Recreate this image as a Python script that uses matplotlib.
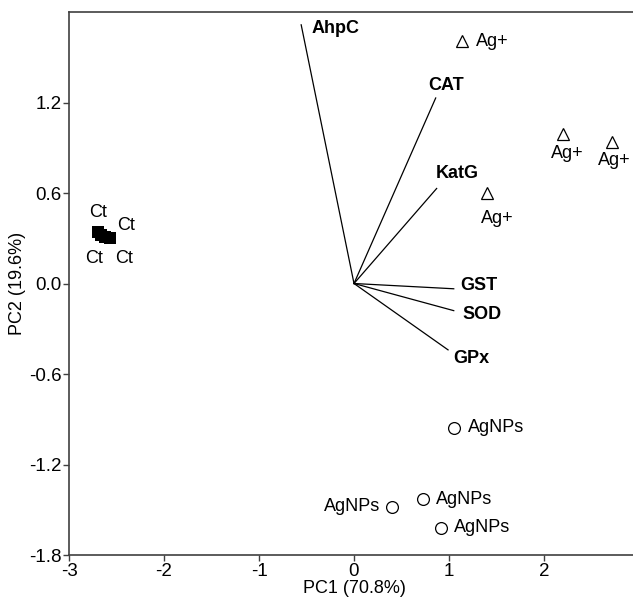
import matplotlib.pyplot as plt

plt.rcParams['font.family'] = ['Liberation Sans', 'DejaVu Sans']
plt.rcParams['axes.unicode_minus'] = False

# scores (PC1, PC2)
ct_x = [-2.70, -2.66, -2.62, -2.57]
ct_y = [0.34, 0.32, 0.31, 0.30]
ag_x = [1.14, 2.20, 2.72, 1.40]
ag_y = [1.61, 0.99, 0.94, 0.60]
np_x = [1.05, 0.73, 0.40, 0.92]
np_y = [-0.955, -1.43, -1.48, -1.62]

# loadings
var_names = ['AhpC', 'CAT', 'KatG', 'GST', 'SOD', 'GPx']
var_x = [-0.556, 0.86, 0.87, 1.05, 1.05, 0.99]
var_y = [1.715, 1.23, 0.63, -0.035, -0.18, -0.44]

# label placement (offset pixels, alignment)
ct_off = [(1, 20, 'center'), (-7, -23, 'center'), (19, -22, 'center'), (16, 13, 'center')]
ag_off = [(14, -1, 'left'), (4, -19, 'center'), (2, -19, 'center'), (10, -25, 'center')]
np_off = [(14, 0, 'left'), (13, 0, 'left'), (-12, 0, 'right'), (13, 0, 'left')]
var_off = [(10, -4, 'left'), (10, 12, 'center'), (-1, 15, 'left'),
           (7, 3, 'left'), (9, -4, 'left'), (5, -9, 'left')]

fig = plt.figure(figsize=(6.33, 5.98), dpi=100)
ax = fig.add_axes([69 / 633, 43 / 598, 570 / 633, 543 / 598])

for name, x, y, (dx, dy, ha) in zip(var_names, var_x, var_y, var_off):
    ax.plot([0, x], [0, y], color='black', lw=0.9)
    ax.annotate(name, (x, y), xytext=(dx, dy), textcoords='offset pixels',
                ha=ha, va='center', fontsize=13, fontweight='bold')

ax.plot(ct_x, ct_y, 's', color='black', ms=8.5, mew=0)
ax.plot(ag_x, ag_y, '^', mfc='white', mec='black', ms=8.5, mew=0.9)
ax.plot(np_x, np_y, 'o', mfc='white', mec='black', ms=8.5, mew=0.9)

for xs, ys, offs, lab in [(ct_x, ct_y, ct_off, 'Ct'), (ag_x, ag_y, ag_off, 'Ag+'),
                          (np_x, np_y, np_off, 'AgNPs')]:
    for x, y, (dx, dy, ha) in zip(xs, ys, offs):
        ax.annotate(lab, (x, y), xytext=(dx, dy), textcoords='offset pixels',
                    ha=ha, va='center', fontsize=13)

ax.set_xlim(-3, 3)
ax.set_ylim(-1.8, 1.8)
ax.set_xticks([-3, -2, -1, 0, 1, 2])
ax.set_yticks([-1.8, -1.2, -0.6, 0.0, 0.6, 1.2])
ax.set_yticklabels(['-1.8', '-1.2', '-0.6', '0.0', '0.6', '1.2'])
ax.tick_params(labelsize=13.5, length=4, width=1, color='#404040', pad=1.5)
for s in ax.spines.values():
    s.set_color('#404040')
    s.set_linewidth(1.2)

ax.set_xlabel('PC1 (70.8%)', fontsize=13, labelpad=0)
ax.set_ylabel('PC2 (19.6%)', fontsize=13, labelpad=2)

fig.savefig('out.png', dpi=100)
